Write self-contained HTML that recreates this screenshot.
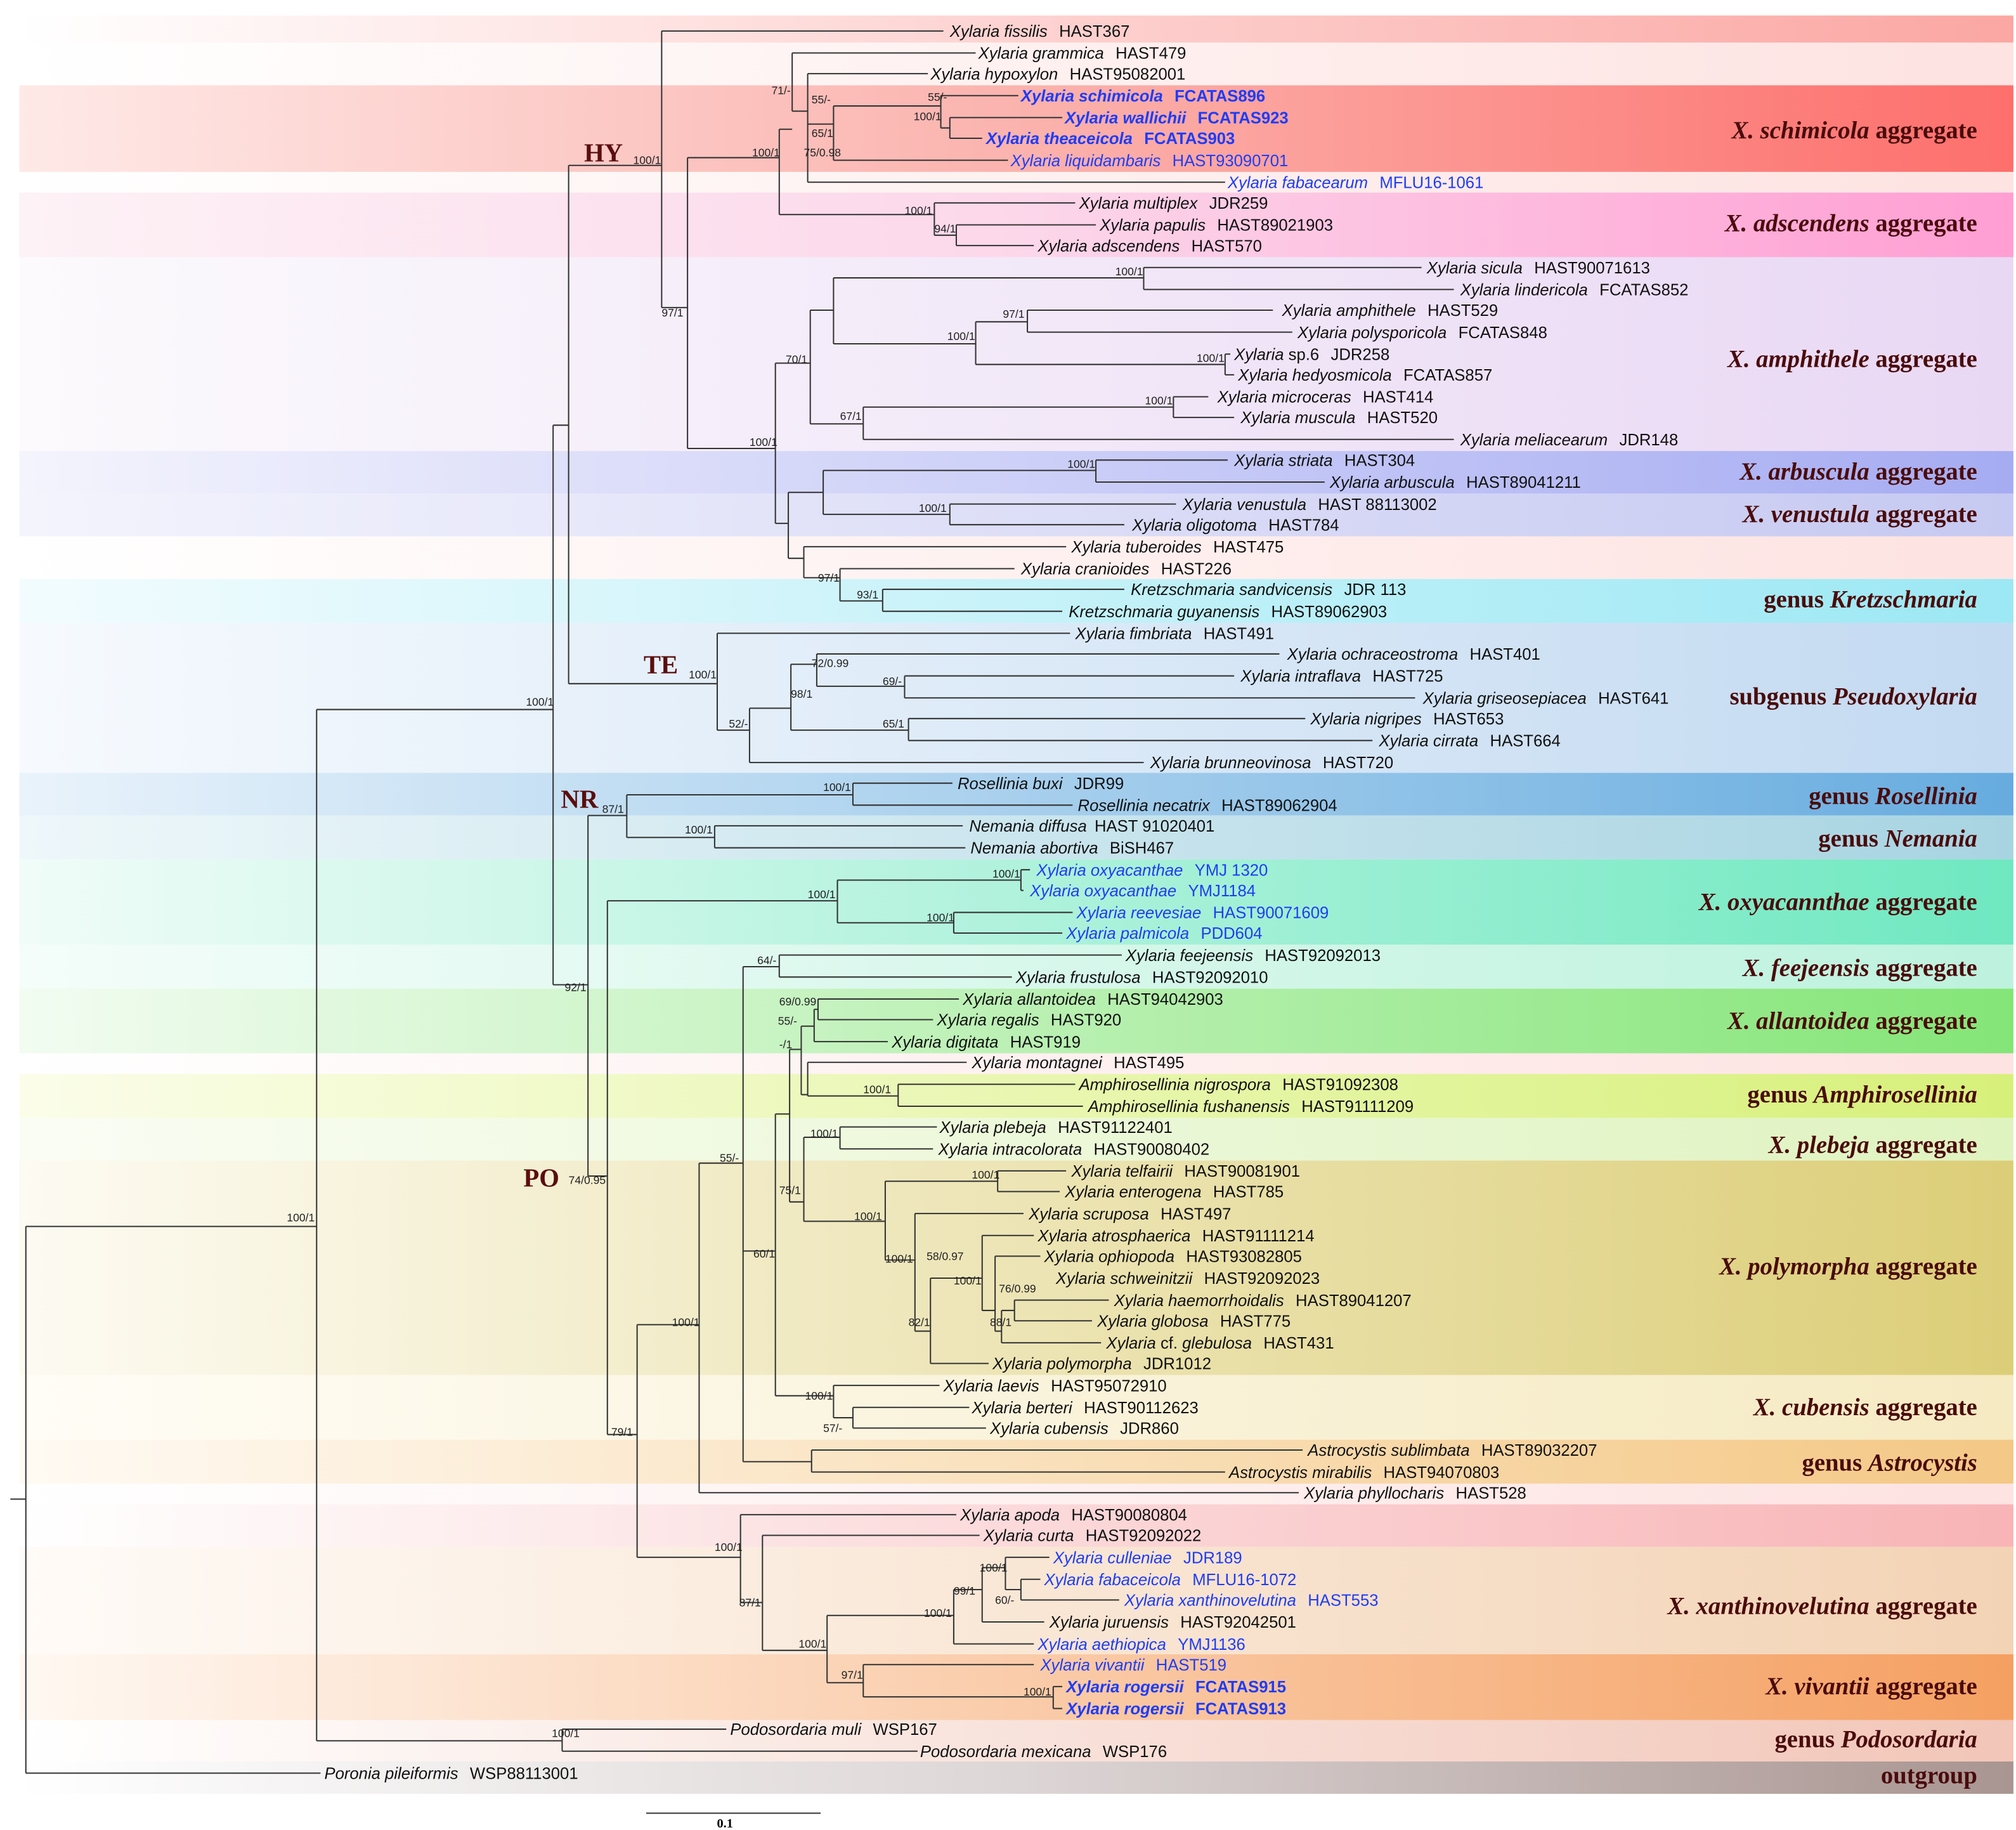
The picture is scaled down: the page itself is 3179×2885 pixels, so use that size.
<!DOCTYPE html>
<html><head><meta charset="utf-8"><style>
html,body{margin:0;padding:0;background:#fff}
svg{display:block}
.t{font-family:"Liberation Sans",sans-serif;font-size:12.6px;fill:#111}
.b{fill:#1f3cf5}
.bb{fill:#1f3cf5;font-weight:bold}
.s{font-family:"Liberation Sans",sans-serif;font-size:8.6px;fill:#222}
.g{font-family:"Liberation Serif",serif;font-size:19px;font-weight:bold;fill:#4a0c0c}
.c{font-family:"Liberation Serif",serif;font-size:20px;font-weight:bold;fill:#5a0e0e}
</style></head><body>
<svg width="3179" height="2885" viewBox="0 0 1560 1416" preserveAspectRatio="none" xmlns="http://www.w3.org/2000/svg">
<defs>
<linearGradient id="g1"><stop offset="0" stop-color="#fff"/><stop offset="1" stop-color="#fba7a3"/></linearGradient>
<linearGradient id="g2"><stop offset="0" stop-color="#fff"/><stop offset="1" stop-color="#fde3e1"/></linearGradient>
<linearGradient id="g3"><stop offset="0" stop-color="#fee9e7"/><stop offset=".5" stop-color="#fbb3ae"/><stop offset="1" stop-color="#fd6f6c"/></linearGradient>
<linearGradient id="g4"><stop offset="0" stop-color="#fdf2f6"/><stop offset=".5" stop-color="#fcd7ea"/><stop offset="1" stop-color="#ff9ed3"/></linearGradient>
<linearGradient id="g5"><stop offset="0" stop-color="#fcfafd"/><stop offset="1" stop-color="#e9d8f4"/></linearGradient>
<linearGradient id="g6"><stop offset="0" stop-color="#f4f4fd"/><stop offset="1" stop-color="#a6acf2"/></linearGradient>
<linearGradient id="g7"><stop offset="0" stop-color="#f4f4fd"/><stop offset="1" stop-color="#c6c9f1"/></linearGradient>
<linearGradient id="g8"><stop offset="0" stop-color="#f2fcfe"/><stop offset="1" stop-color="#9ce8f4"/></linearGradient>
<linearGradient id="g9"><stop offset="0" stop-color="#f6fafe"/><stop offset="1" stop-color="#c3daf1"/></linearGradient>
<linearGradient id="g10"><stop offset="0" stop-color="#e9f3fb"/><stop offset="1" stop-color="#67acdf"/></linearGradient>
<linearGradient id="g11"><stop offset="0" stop-color="#eef7fa"/><stop offset="1" stop-color="#a8d4e2"/></linearGradient>
<linearGradient id="g12"><stop offset="0" stop-color="#f0fcf8"/><stop offset="1" stop-color="#6fe8c0"/></linearGradient>
<linearGradient id="g13"><stop offset="0" stop-color="#f4fdfa"/><stop offset="1" stop-color="#bdf2de"/></linearGradient>
<linearGradient id="g14"><stop offset="0" stop-color="#f2fcf1"/><stop offset="1" stop-color="#84e577"/></linearGradient>
<linearGradient id="g15"><stop offset="0" stop-color="#fbfde9"/><stop offset="1" stop-color="#d7f07a"/></linearGradient>
<linearGradient id="g16"><stop offset="0" stop-color="#fafdf4"/><stop offset="1" stop-color="#dff3c0"/></linearGradient>
<linearGradient id="g17"><stop offset="0" stop-color="#fdfbf2"/><stop offset="1" stop-color="#dcce78"/></linearGradient>
<linearGradient id="g18"><stop offset="0" stop-color="#fffdf6"/><stop offset="1" stop-color="#f5eac2"/></linearGradient>
<linearGradient id="g19"><stop offset="0" stop-color="#fffaf3"/><stop offset="1" stop-color="#f4c886"/></linearGradient>
<linearGradient id="g20"><stop offset="0" stop-color="#fff"/><stop offset="1" stop-color="#f8b4b6"/></linearGradient>
<linearGradient id="g21"><stop offset="0" stop-color="#fffbf7"/><stop offset="1" stop-color="#f3d3b5"/></linearGradient>
<linearGradient id="g22"><stop offset="0" stop-color="#fff8f2"/><stop offset="1" stop-color="#f5a062"/></linearGradient>
<linearGradient id="g23"><stop offset="0" stop-color="#fff"/><stop offset="1" stop-color="#f2c6b8"/></linearGradient>
<linearGradient id="g24"><stop offset="0" stop-color="#fff"/><stop offset=".5" stop-color="#ddd6d6"/><stop offset="1" stop-color="#a99591"/></linearGradient>
</defs>
<g>
<rect x="15" y="12" width="1543" height="21" fill="url(#g1)"/>
<rect x="15" y="33" width="1543" height="33" fill="url(#g2)"/>
<rect x="15" y="66" width="1543" height="67" fill="url(#g3)"/>
<rect x="15" y="133" width="1543" height="16" fill="url(#g2)"/>
<rect x="15" y="149" width="1543" height="50" fill="url(#g4)"/>
<rect x="15" y="199" width="1543" height="150" fill="url(#g5)"/>
<rect x="15" y="349" width="1543" height="33" fill="url(#g6)"/>
<rect x="15" y="382" width="1543" height="33" fill="url(#g7)"/>
<rect x="15" y="415" width="1543" height="33" fill="url(#g2)"/>
<rect x="15" y="448" width="1543" height="34" fill="url(#g8)"/>
<rect x="15" y="482" width="1543" height="116" fill="url(#g9)"/>
<rect x="15" y="598" width="1543" height="33" fill="url(#g10)"/>
<rect x="15" y="631" width="1543" height="34" fill="url(#g11)"/>
<rect x="15" y="665" width="1543" height="66" fill="url(#g12)"/>
<rect x="15" y="731" width="1543" height="34" fill="url(#g13)"/>
<rect x="15" y="765" width="1543" height="50" fill="url(#g14)"/>
<rect x="15" y="815" width="1543" height="16" fill="url(#g2)"/>
<rect x="15" y="831" width="1543" height="34" fill="url(#g15)"/>
<rect x="15" y="865" width="1543" height="33" fill="url(#g16)"/>
<rect x="15" y="898" width="1543" height="166" fill="url(#g17)"/>
<rect x="15" y="1064" width="1543" height="50" fill="url(#g18)"/>
<rect x="15" y="1114" width="1543" height="34" fill="url(#g19)"/>
<rect x="15" y="1148" width="1543" height="16" fill="url(#g2)"/>
<rect x="15" y="1164" width="1543" height="33" fill="url(#g20)"/>
<rect x="15" y="1197" width="1543" height="83" fill="url(#g21)"/>
<rect x="15" y="1280" width="1543" height="51" fill="url(#g22)"/>
<rect x="15" y="1331" width="1543" height="32" fill="url(#g23)"/>
<rect x="15" y="1363" width="1543" height="25" fill="url(#g24)"/>
</g>
<path fill="none" stroke="#333" stroke-width="1" d="
M8 1160H20M20 949V1372M20 949H245M20 1372H248
M245 549V1347M245 549H428M245 1347H435
M435 1338V1355M435 1338H562M435 1355H710
M428 329V762M428 329H440M428 762H455
M440 128V529M440 128H512M440 529H555
M512 24V238M512 24H730M512 238H532
M532 122V347M532 122H603M532 347H600
M603 100V166M603 100H613M603 166H723
M613 41V86M613 41H755M613 86H625
M625 57V141M625 57H718M625 141H948M625 96H645
M645 82V124M645 82H728M645 124H780
M728 74V99M728 74H788M728 99H735M735 91V107M735 91H822M735 107H760
M723 157V182M723 157H832M723 182H740M740 174V190M740 174H848M740 190H800
M600 281V405M600 281H627M600 405H610
M627 240V328M627 240H645M627 328H668
M645 215V266M645 215H885M645 266H755
M885 207V224M885 207H1100M885 224H1125
M755 249V282M755 249H795M755 282H948
M795 240V257M795 240H985M795 257H1000
M948 274V290M948 274H952M948 290H955
M668 315V340M668 315H908M668 340H1125
M908 307V323M908 307H935M908 323H955
M610 381V432M610 381H637M610 432H622
M637 364V398M637 364H848M637 398H735
M848 356V373M848 356H950M848 373H1025
M735 390V406M735 390H910M735 406H870
M622 423V447M622 423H825M622 447H650
M650 440V465M650 440H785M650 465H683
M683 456V473M683 456H870M683 473H822
M555 490V565M555 490H828M555 565H580
M580 548V590M580 548H612M580 590H885
M612 514V565M612 514H632M612 565H703
M632 506V531M632 506H990M632 531H700
M700 523V540M700 523H955M700 540H1095
M703 556V573M703 556H1010M703 573H1062
M455 631V910M455 631H485M455 910H470
M485 615V648M485 615H660M485 648H553
M660 606V623M660 606H737M660 623H830
M553 639V656M553 639H745M553 656H747
M470 697V1110M470 697H648M470 1110H493
M648 681V714M648 681H790M648 714H738
M790 673V689M790 673H797M790 689H792
M738 706V722M738 706H830M738 722H822
M493 1025V1205M493 1025H541M493 1205H573
M541 900V1155M541 900H575M541 1155H1005
M575 748V1131M575 748H603M575 968H600M575 1131H628
M603 739V756M603 739H868M603 756H783
M628 1122V1139M628 1122H1008M628 1139H948
M600 862V1080M600 862H611M600 1080H645
M645 1072V1097M645 1072H727M645 1097H660
M660 1089V1105M660 1089H750M660 1105H763
M611 812V930M611 812H620M611 930H622
M620 794V847M620 794H630M620 847H625
M630 781V806M630 781H633M630 806H687
M633 773V789M633 773H742M633 789H722
M625 822V848M625 822H748M625 848H695
M695 839V856M695 839H832M695 856H838
M622 880V945M622 880H650M622 945H685
M650 872V889M650 872H725M650 889H722
M685 914V975M685 914H772M685 975H708
M772 906V922M772 906H825M772 922H820
M708 939V1030M708 939H792M708 1030H720
M720 989V1055M720 989H760M720 1055H765
M760 956V1014M760 956H800M760 1014H770
M770 972V1030M770 972H805M770 1030H775
M775 1014V1039M775 1014H785M775 1039H852
M785 1006V1022M785 1006H858M785 1022H845
M573 1172V1240M573 1172H740M573 1240H590
M590 1188V1277M590 1188H758M590 1277H640
M640 1250V1302M640 1250H738M640 1302H668
M738 1230V1272M738 1230H760M738 1272H800
M760 1213V1255M760 1213H778M760 1255H808
M778 1205V1230M778 1205H812M778 1230H790
M790 1222V1238M790 1222H805M790 1238H866
M668 1288V1313M668 1288H800M668 1313H815
M815 1305V1322M815 1305H822M815 1322H822
M500 1403H635"/>
<text x="561" y="1414" text-anchor="middle" font-family="Liberation Serif,serif" font-size="10" font-weight="bold">0.1</text>

<g class="t">
<text x="735" y="28.5"><tspan font-style="italic">Xylaria fissilis</tspan><tspan dx="9">HAST367</tspan></text>
<text x="757" y="45.5"><tspan font-style="italic">Xylaria grammica</tspan><tspan dx="9">HAST479</tspan></text>
<text x="720" y="61.5"><tspan font-style="italic">Xylaria hypoxylon</tspan><tspan dx="9">HAST95082001</tspan></text>
<text x="790" y="78.5" class="bb"><tspan font-style="italic">Xylaria schimicola</tspan><tspan dx="9">FCATAS896</tspan></text>
<text x="824" y="95.5" class="bb"><tspan font-style="italic">Xylaria wallichii</tspan><tspan dx="9">FCATAS923</tspan></text>
<text x="763" y="111.5" class="bb"><tspan font-style="italic">Xylaria theaceicola</tspan><tspan dx="9">FCATAS903</tspan></text>
<text x="782" y="128.5" class="b"><tspan font-style="italic">Xylaria liquidambaris</tspan><tspan dx="9">HAST93090701</tspan></text>
<text x="950" y="145.5" class="b"><tspan font-style="italic">Xylaria fabacearum</tspan><tspan dx="9">MFLU16-1061</tspan></text>
<text x="835" y="161.5"><tspan font-style="italic">Xylaria multiplex</tspan><tspan dx="9">JDR259</tspan></text>
<text x="851" y="178.5"><tspan font-style="italic">Xylaria papulis</tspan><tspan dx="9">HAST89021903</tspan></text>
<text x="803" y="194.5"><tspan font-style="italic">Xylaria adscendens</tspan><tspan dx="9">HAST570</tspan></text>
<text x="1104" y="211.5"><tspan font-style="italic">Xylaria sicula</tspan><tspan dx="9">HAST90071613</tspan></text>
<text x="1130" y="228.5"><tspan font-style="italic">Xylaria lindericola</tspan><tspan dx="9">FCATAS852</tspan></text>
<text x="992" y="244.5"><tspan font-style="italic">Xylaria amphithele</tspan><tspan dx="9">HAST529</tspan></text>
<text x="1004" y="261.5"><tspan font-style="italic">Xylaria polysporicola</tspan><tspan dx="9">FCATAS848</tspan></text>
<text x="955" y="278.5"><tspan font-style="italic">Xylaria</tspan> sp.6<tspan dx="9">JDR258</tspan></text>
<text x="958" y="294.5"><tspan font-style="italic">Xylaria hedyosmicola</tspan><tspan dx="9">FCATAS857</tspan></text>
<text x="942" y="311.5"><tspan font-style="italic">Xylaria microceras</tspan><tspan dx="9">HAST414</tspan></text>
<text x="960" y="327.5"><tspan font-style="italic">Xylaria muscula</tspan><tspan dx="9">HAST520</tspan></text>
<text x="1130" y="344.5"><tspan font-style="italic">Xylaria meliacearum</tspan><tspan dx="9">JDR148</tspan></text>
<text x="955" y="360.5"><tspan font-style="italic">Xylaria striata</tspan><tspan dx="9">HAST304</tspan></text>
<text x="1029" y="377.5"><tspan font-style="italic">Xylaria arbuscula</tspan><tspan dx="9">HAST89041211</tspan></text>
<text x="915" y="394.5"><tspan font-style="italic">Xylaria venustula</tspan><tspan dx="9">HAST 88113002</tspan></text>
<text x="876" y="410.5"><tspan font-style="italic">Xylaria oligotoma</tspan><tspan dx="9">HAST784</tspan></text>
<text x="829" y="427.5"><tspan font-style="italic">Xylaria tuberoides</tspan><tspan dx="9">HAST475</tspan></text>
<text x="790" y="444.5"><tspan font-style="italic">Xylaria cranioides</tspan><tspan dx="9">HAST226</tspan></text>
<text x="875" y="460.5"><tspan font-style="italic">Kretzschmaria sandvicensis</tspan><tspan dx="9">JDR 113</tspan></text>
<text x="827" y="477.5"><tspan font-style="italic">Kretzschmaria guyanensis</tspan><tspan dx="9">HAST89062903</tspan></text>
<text x="832" y="494.5"><tspan font-style="italic">Xylaria fimbriata</tspan><tspan dx="9">HAST491</tspan></text>
<text x="996" y="510.5"><tspan font-style="italic">Xylaria ochraceostroma</tspan><tspan dx="9">HAST401</tspan></text>
<text x="960" y="527.5"><tspan font-style="italic">Xylaria intraflava</tspan><tspan dx="9">HAST725</tspan></text>
<text x="1101" y="544.5"><tspan font-style="italic">Xylaria griseosepiacea</tspan><tspan dx="9">HAST641</tspan></text>
<text x="1014" y="560.5"><tspan font-style="italic">Xylaria nigripes</tspan><tspan dx="9">HAST653</tspan></text>
<text x="1067" y="577.5"><tspan font-style="italic">Xylaria cirrata</tspan><tspan dx="9">HAST664</tspan></text>
<text x="890" y="594.5"><tspan font-style="italic">Xylaria brunneovinosa</tspan><tspan dx="9">HAST720</tspan></text>
<text x="741" y="610.5"><tspan font-style="italic">Rosellinia buxi</tspan><tspan dx="9">JDR99</tspan></text>
<text x="834" y="627.5"><tspan font-style="italic">Rosellinia necatrix</tspan><tspan dx="9">HAST89062904</tspan></text>
<text x="750" y="643.5"><tspan font-style="italic">Nemania diffusa</tspan><tspan dx="6">HAST 91020401</tspan></text>
<text x="751" y="660.5"><tspan font-style="italic">Nemania abortiva</tspan><tspan dx="9">BiSH467</tspan></text>
<text x="802" y="677.5" class="b"><tspan font-style="italic">Xylaria oxyacanthae</tspan><tspan dx="9">YMJ 1320</tspan></text>
<text x="797" y="693.5" class="b"><tspan font-style="italic">Xylaria oxyacanthae</tspan><tspan dx="9">YMJ1184</tspan></text>
<text x="833" y="710.5" class="b"><tspan font-style="italic">Xylaria reevesiae</tspan><tspan dx="9">HAST90071609</tspan></text>
<text x="825" y="726.5" class="b"><tspan font-style="italic">Xylaria palmicola</tspan><tspan dx="9">PDD604</tspan></text>
<text x="871" y="743.5"><tspan font-style="italic">Xylaria feejeensis</tspan><tspan dx="9">HAST92092013</tspan></text>
<text x="786" y="760.5"><tspan font-style="italic">Xylaria frustulosa</tspan><tspan dx="9">HAST92092010</tspan></text>
<text x="745" y="777.5"><tspan font-style="italic">Xylaria allantoidea</tspan><tspan dx="9">HAST94042903</tspan></text>
<text x="725" y="793.5"><tspan font-style="italic">Xylaria regalis</tspan><tspan dx="9">HAST920</tspan></text>
<text x="690" y="810.5"><tspan font-style="italic">Xylaria digitata</tspan><tspan dx="9">HAST919</tspan></text>
<text x="752" y="826.5"><tspan font-style="italic">Xylaria montagnei</tspan><tspan dx="9">HAST495</tspan></text>
<text x="835" y="843.5"><tspan font-style="italic">Amphirosellinia nigrospora</tspan><tspan dx="9">HAST91092308</tspan></text>
<text x="842" y="860.5"><tspan font-style="italic">Amphirosellinia fushanensis</tspan><tspan dx="9">HAST91111209</tspan></text>
<text x="727" y="876.5"><tspan font-style="italic">Xylaria plebeja</tspan><tspan dx="9">HAST91122401</tspan></text>
<text x="726" y="893.5"><tspan font-style="italic">Xylaria intracolorata</tspan><tspan dx="9">HAST90080402</tspan></text>
<text x="829" y="910.5"><tspan font-style="italic">Xylaria telfairii</tspan><tspan dx="9">HAST90081901</tspan></text>
<text x="824" y="926.5"><tspan font-style="italic">Xylaria enterogena</tspan><tspan dx="9">HAST785</tspan></text>
<text x="796" y="943.5"><tspan font-style="italic">Xylaria scruposa</tspan><tspan dx="9">HAST497</tspan></text>
<text x="803" y="960.5"><tspan font-style="italic">Xylaria atrosphaerica</tspan><tspan dx="9">HAST91111214</tspan></text>
<text x="808" y="976.5"><tspan font-style="italic">Xylaria ophiopoda</tspan><tspan dx="9">HAST93082805</tspan></text>
<text x="817" y="993.5"><tspan font-style="italic">Xylaria schweinitzii</tspan><tspan dx="9">HAST92092023</tspan></text>
<text x="862" y="1010.5"><tspan font-style="italic">Xylaria haemorrhoidalis</tspan><tspan dx="9">HAST89041207</tspan></text>
<text x="849" y="1026.5"><tspan font-style="italic">Xylaria globosa</tspan><tspan dx="9">HAST775</tspan></text>
<text x="856" y="1043.5"><tspan font-style="italic">Xylaria</tspan> cf. <tspan font-style="italic">glebulosa</tspan><tspan dx="9">HAST431</tspan></text>
<text x="768" y="1059.5"><tspan font-style="italic">Xylaria polymorpha</tspan><tspan dx="9">JDR1012</tspan></text>
<text x="730" y="1076.5"><tspan font-style="italic">Xylaria laevis</tspan><tspan dx="9">HAST95072910</tspan></text>
<text x="752" y="1093.5"><tspan font-style="italic">Xylaria berteri</tspan><tspan dx="9">HAST90112623</tspan></text>
<text x="766" y="1109.5"><tspan font-style="italic">Xylaria cubensis</tspan><tspan dx="9">JDR860</tspan></text>
<text x="1012" y="1126.5"><tspan font-style="italic">Astrocystis sublimbata</tspan><tspan dx="9">HAST89032207</tspan></text>
<text x="951" y="1143.5"><tspan font-style="italic">Astrocystis mirabilis</tspan><tspan dx="9">HAST94070803</tspan></text>
<text x="1009" y="1159.5"><tspan font-style="italic">Xylaria phyllocharis</tspan><tspan dx="9">HAST528</tspan></text>
<text x="743" y="1176.5"><tspan font-style="italic">Xylaria apoda</tspan><tspan dx="9">HAST90080804</tspan></text>
<text x="761" y="1192.5"><tspan font-style="italic">Xylaria curta</tspan><tspan dx="9">HAST92092022</tspan></text>
<text x="815" y="1209.5" class="b"><tspan font-style="italic">Xylaria culleniae</tspan><tspan dx="9">JDR189</tspan></text>
<text x="808" y="1226.5" class="b"><tspan font-style="italic">Xylaria fabaceicola</tspan><tspan dx="9">MFLU16-1072</tspan></text>
<text x="870" y="1242.5" class="b"><tspan font-style="italic">Xylaria xanthinovelutina</tspan><tspan dx="9">HAST553</tspan></text>
<text x="812" y="1259.5"><tspan font-style="italic">Xylaria juruensis</tspan><tspan dx="9">HAST92042501</tspan></text>
<text x="803" y="1276.5" class="b"><tspan font-style="italic">Xylaria aethiopica</tspan><tspan dx="9">YMJ1136</tspan></text>
<text x="805" y="1292.5" class="b"><tspan font-style="italic">Xylaria vivantii</tspan><tspan dx="9">HAST519</tspan></text>
<text x="825" y="1309.5" class="bb"><tspan font-style="italic">Xylaria rogersii</tspan><tspan dx="9">FCATAS915</tspan></text>
<text x="825" y="1326.5" class="bb"><tspan font-style="italic">Xylaria rogersii</tspan><tspan dx="9">FCATAS913</tspan></text>
<text x="565" y="1342.5"><tspan font-style="italic">Podosordaria muli</tspan><tspan dx="9">WSP167</tspan></text>
<text x="712" y="1359.5"><tspan font-style="italic">Podosordaria mexicana</tspan><tspan dx="9">WSP176</tspan></text>
<text x="251" y="1376.5"><tspan font-style="italic">Poronia pileiformis</tspan><tspan dx="9">WSP88113001</tspan></text>
</g>

<g class="s">
<text x="222" y="945">100/1</text>
<text x="407" y="546">100/1</text>
<text x="427" y="1344">100/1</text>
<text x="490" y="127">100/1</text>
<text x="597" y="73">71/-</text>
<text x="628" y="80">55/-</text>
<text x="718" y="78">55/-</text>
<text x="707" y="93">100/1</text>
<text x="628" y="106">65/1</text>
<text x="582" y="121">100/1</text>
<text x="622" y="121">75/0.98</text>
<text x="700" y="166">100/1</text>
<text x="723" y="180">94/1</text>
<text x="512" y="245">97/1</text>
<text x="863" y="213">100/1</text>
<text x="776" y="246">97/1</text>
<text x="733" y="263">100/1</text>
<text x="926" y="280">100/1</text>
<text x="608" y="281">70/1</text>
<text x="886" y="313">100/1</text>
<text x="650" y="325">67/1</text>
<text x="580" y="345">100/1</text>
<text x="826" y="362">100/1</text>
<text x="711" y="396">100/1</text>
<text x="633" y="450">97/1</text>
<text x="663" y="463">93/1</text>
<text x="533" y="525">100/1</text>
<text x="628" y="516">72/0.99</text>
<text x="683" y="530">69/-</text>
<text x="612" y="540">98/1</text>
<text x="683" y="563">65/1</text>
<text x="564" y="563">52/-</text>
<text x="637" y="612">100/1</text>
<text x="466" y="629">87/1</text>
<text x="530" y="645">100/1</text>
<text x="768" y="679">100/1</text>
<text x="625" y="695">100/1</text>
<text x="717" y="713">100/1</text>
<text x="586" y="746">64/-</text>
<text x="437" y="767">92/1</text>
<text x="603" y="778">69/0.99</text>
<text x="602" y="793">55/-</text>
<text x="603" y="811">-/1</text>
<text x="668" y="846">100/1</text>
<text x="627" y="880">100/1</text>
<text x="557" y="899">55/-</text>
<text x="440" y="916">74/0.95</text>
<text x="752" y="912">100/1</text>
<text x="603" y="924">75/1</text>
<text x="661" y="944">100/1</text>
<text x="685" y="977">100/1</text>
<text x="717" y="975">58/0.97</text>
<text x="583" y="973">60/1</text>
<text x="738" y="994">100/1</text>
<text x="773" y="1000">76/0.99</text>
<text x="766" y="1026">88/1</text>
<text x="703" y="1026">82/1</text>
<text x="520" y="1026">100/1</text>
<text x="623" y="1083">100/1</text>
<text x="637" y="1108">57/-</text>
<text x="473" y="1111">79/1</text>
<text x="553" y="1200">100/1</text>
<text x="758" y="1216">100/1</text>
<text x="738" y="1234">99/1</text>
<text x="770" y="1241">60/-</text>
<text x="572" y="1243">87/1</text>
<text x="715" y="1251">100/1</text>
<text x="618" y="1275">100/1</text>
<text x="651" y="1299">97/1</text>
<text x="792" y="1312">100/1</text>
</g>

<g class="c">
<text x="452" y="125">HY</text>
<text x="498" y="521">TE</text>
<text x="434" y="625">NR</text>
<text x="405" y="918">PO</text>
</g>

<g class="g" text-anchor="end">
<text x="1530" y="107"><tspan font-style="italic">X. schimicola</tspan> aggregate</text>
<text x="1530" y="179"><tspan font-style="italic">X. adscendens</tspan> aggregate</text>
<text x="1530" y="284"><tspan font-style="italic">X. amphithele</tspan> aggregate</text>
<text x="1530" y="371"><tspan font-style="italic">X. arbuscula</tspan> aggregate</text>
<text x="1530" y="404"><tspan font-style="italic">X. venustula</tspan> aggregate</text>
<text x="1530" y="470">genus <tspan font-style="italic">Kretzschmaria</tspan></text>
<text x="1530" y="545">subgenus <tspan font-style="italic">Pseudoxylaria</tspan></text>
<text x="1530" y="622">genus <tspan font-style="italic">Rosellinia</tspan></text>
<text x="1530" y="655">genus <tspan font-style="italic">Nemania</tspan></text>
<text x="1530" y="704"><tspan font-style="italic">X. oxyacannthae</tspan> aggregate</text>
<text x="1530" y="755"><tspan font-style="italic">X. feejeensis</tspan> aggregate</text>
<text x="1530" y="796"><tspan font-style="italic">X. allantoidea</tspan> aggregate</text>
<text x="1530" y="853">genus <tspan font-style="italic">Amphirosellinia</tspan></text>
<text x="1530" y="892"><tspan font-style="italic">X. plebeja</tspan> aggregate</text>
<text x="1530" y="986"><tspan font-style="italic">X. polymorpha</tspan> aggregate</text>
<text x="1530" y="1095"><tspan font-style="italic">X. cubensis</tspan> aggregate</text>
<text x="1530" y="1138">genus <tspan font-style="italic">Astrocystis</tspan></text>
<text x="1530" y="1249"><tspan font-style="italic">X. xanthinovelutina</tspan> aggregate</text>
<text x="1530" y="1311"><tspan font-style="italic">X. vivantii</tspan> aggregate</text>
<text x="1530" y="1352">genus <tspan font-style="italic">Podosordaria</tspan></text>
<text x="1530" y="1380">outgroup</text>
</g>
</svg>
</body></html>
